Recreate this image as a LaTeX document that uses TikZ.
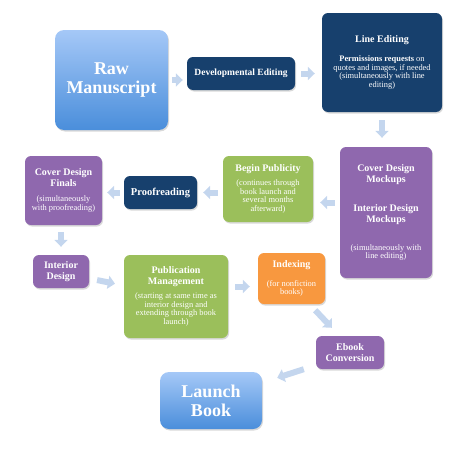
\documentclass[tikz,border=0pt]{standalone}
\usepackage{fontspec}
\setmainfont{Liberation Serif}
\usetikzlibrary{arrows.meta,shadows,calc}
\definecolor{navy}{HTML}{17406D}
\definecolor{purp}{HTML}{8F68AE}
\definecolor{grn}{HTML}{9BBF5B}
\definecolor{orng}{HTML}{F8983F}
\definecolor{blutop}{HTML}{A5C8F7}
\definecolor{blubot}{HTML}{4A8EDB}
\definecolor{arrc}{HTML}{C4D6EE}
\newcommand{\bdy}{\fontsize{8.4}{8.6}\selectfont\mdseries}
\newcommand{\nl}{\\[-2.5pt]\bdy}
\begin{document}
\begin{tikzpicture}[x=1pt,y=-1pt,
  box/.style={rounded corners=6pt, text=white, align=center, inner sep=1pt,
    font=\fontsize{10}{11}\selectfont\bfseries,
    drop shadow={shadow xshift=1pt,shadow yshift=-1.5pt,opacity=0.3}},
  navybox/.style={box, fill=navy},
  purpbox/.style={box, fill=purp},
  grnbox/.style={box, fill=grn},
  orngbox/.style={box, fill=orng},
  blubox/.style={box, top color=blutop, bottom color=blubot, rounded corners=9pt,
    font=\fontsize{18}{19}\selectfont\bfseries},
  flow/.style={draw=arrc, line width=6pt, -{Triangle[width=13pt,length=7pt]}}
]
\useasboundingbox (0,0) rectangle (474,455);

\node[blubox, minimum width=113pt, minimum height=100pt] (raw) at (111.5,80)
  {Raw\\Manuscript};
\node[navybox, minimum width=108pt, minimum height=33pt, font=\fontsize{9.5}{11}\selectfont\bfseries] (dev) at (241,73.5)
  {Developmental Editing};
\node[navybox, minimum width=120pt, minimum height=99pt] (line) at (382,62.5)
  {Line Editing\\[8pt]\bdy\bfseries Permissions requests \bdy on\nl quotes and images, if needed\nl (simultaneously with line\nl editing)};
\node[purpbox, minimum width=92pt, minimum height=131pt] (mock) at (386,212.5)
  {Cover Design\\Mockups\\[18pt]Interior Design\\Mockups\\[17pt]\bdy (simultaneously with\nl line editing)};
\node[grnbox, minimum width=90pt, minimum height=66pt] (pub) at (268,189)
  {Begin Publicity\\[3pt]\bdy (continues through\nl book launch and\nl several months\nl afterward)};
\node[navybox, minimum width=73pt, minimum height=33pt, font=\fontsize{10.5}{12}\selectfont\bfseries] (proof) at (160.5,192.5)
  {Proofreading};
\node[purpbox, minimum width=77pt, minimum height=69pt] (finals) at (63.5,190.5)
  {Cover Design\\Finals\\[4pt]\bdy (simultaneously\nl with proofreading)};
\node[purpbox, minimum width=56pt, minimum height=33pt] (interior) at (61,271.5)
  {Interior\\Design};
\node[grnbox, minimum width=104pt, minimum height=83pt] (pubm) at (176,296.5)
  {Publication\\Management\\[3pt]\bdy (starting at same time as\nl interior design and\nl extending through book\nl launch)};
\node[orngbox, minimum width=67pt, minimum height=51pt] (index) at (291.5,278.5)
  {Indexing\\[8pt]\bdy (for nonfiction\nl books)};
\node[purpbox, minimum width=68pt, minimum height=33pt] (ebook) at (350,352.5)
  {Ebook\\Conversion};
\node[blubox, minimum width=102pt, minimum height=57pt] (launch) at (211,400.5)
  {Launch\\Book};

\draw[flow, shorten <=4pt, shorten >=4pt] (raw.east) -- (raw.east -| dev.west);
\draw[flow, shorten <=6pt, shorten >=7pt] (dev.east) -- (dev.east -| line.west);
\draw[flow, shorten <=8pt, shorten >=9pt] (line.south) -- (line.south |- mock.north);
\draw[flow, shorten <=5pt, shorten >=7pt] ([yshift=10pt]mock.west) -- ([yshift=10pt]mock.west -| pub.east);
\draw[flow, shorten <=5pt, shorten >=6pt] (proof.east -| pub.west) -- (proof.east);
\draw[flow, shorten <=4pt, shorten >=5pt] (proof.west) -- (proof.west -| finals.east);
\draw[flow, shorten <=7pt, shorten >=8pt] (interior.north |- finals.south) -- (interior.north);
\draw[flow, shorten <=8pt, shorten >=9pt] ([yshift=-7pt]interior.east) -- ([yshift=11pt]pubm.west);
\draw[flow, shorten <=7pt, shorten >=8pt] ([yshift=10pt]pubm.east) -- ([yshift=10pt]pubm.east -| index.west);
\draw[flow] ([xshift=-10pt,yshift=-6pt]index.south east) -- ([xshift=16pt,yshift=8pt]ebook.north west);
\draw[flow] ([xshift=-12pt]ebook.south west) -- ([xshift=15pt,yshift=-6pt]launch.north east);
\end{tikzpicture}
\end{document}
